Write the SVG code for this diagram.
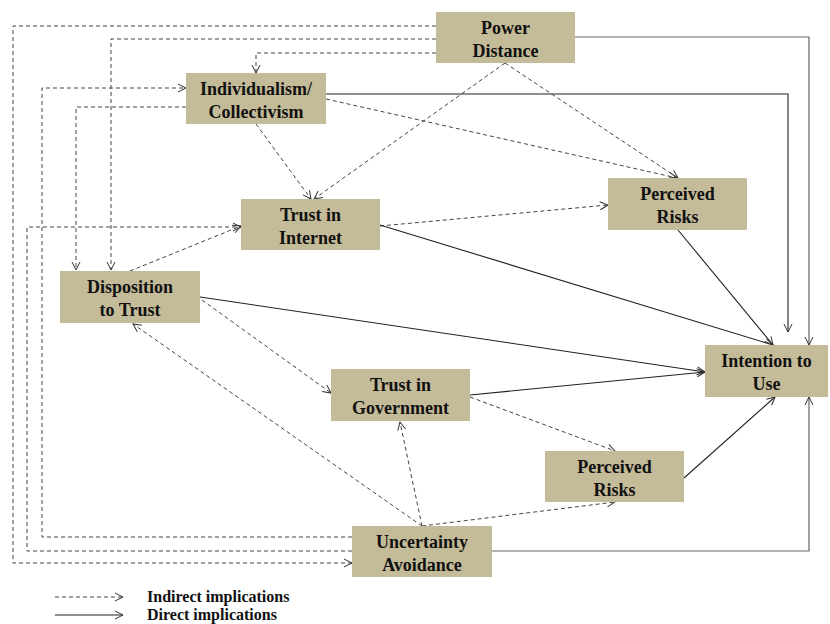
<svg xmlns="http://www.w3.org/2000/svg" width="830" height="624" viewBox="0 0 830 624">
<style>
.node rect{fill:#c4bb98;}
.node text,.legend text{font-family:"Liberation Serif","Times New Roman",serif;font-weight:bold;font-size:18px;fill:#111;text-anchor:middle;}
.legend text{font-size:16px;text-anchor:start;}
.d{fill:none;stroke:#444;stroke-width:1;stroke-dasharray:4,3;marker-end:url(#ah);}
.s{fill:none;stroke:#222;stroke-width:1.1;marker-end:url(#ah);}
.g{fill:none;stroke:#666;stroke-width:1.2;marker-end:url(#ah);}
</style>
<defs>
<marker id="ah" markerUnits="userSpaceOnUse" markerWidth="12" markerHeight="12" refX="9" refY="5" orient="auto">
<path d="M1,1 L9,5 L1,9" fill="none" stroke="#333" stroke-width="1"/>
</marker>
</defs>
<rect width="830" height="624" fill="#fff"/>
<g id="connectors">
<path class="d" d="M436,26 H13 V563 H352"/>
<path class="d" d="M436,39 H111 V270"/>
<path class="d" d="M436,53 H256 V73"/>
<path class="d" d="M352,537 H42 V88 H186"/>
<path class="d" d="M352,551 H27 V227 H241"/>
<path class="d" d="M186,107 H76 V270"/>
<path class="d" d="M256,124 L311,199"/>
<path class="d" d="M505,63 L314,199"/>
<path class="d" d="M505,63 L678,178"/>
<path class="d" d="M326,99 L677,178"/>
<path class="d" d="M380,226 L608,205"/>
<path class="d" d="M130,271 L241,226"/>
<path class="d" d="M202,300 L331,393"/>
<path class="d" d="M422,526 L133,324"/>
<path class="d" d="M422,526 L400,422"/>
<path class="d" d="M422,526 L615,502"/>
<path class="d" d="M470,397 L615,451"/>
<path class="s" d="M200,297 L705,372"/>
<path class="s" d="M470,395 L705,372"/>
<path class="s" d="M380,225 L773,345"/>
<path class="s" d="M678,230 L773,345"/>
<path class="s" d="M684,478 L775,397"/>
<path class="g" d="M492,551 H809 V397"/>
<path class="g" d="M575,37 H809 V345"/>
<path class="s" d="M326,94 H788 V332"/>
</g>
<g id="power-distance" class="node"><rect x="436" y="12" width="139" height="51"/><text x="505.5" y="34">Power</text><text x="505.5" y="57">Distance</text></g>
<g id="individualism" class="node"><rect x="186" y="73" width="140" height="51"/><text x="256" y="95">Individualism/</text><text x="256" y="118">Collectivism</text></g>
<g id="trust-internet" class="node"><rect x="241" y="199" width="139" height="51"/><text x="310.5" y="221">Trust in</text><text x="310.5" y="244">Internet</text></g>
<g id="perceived-risks-1" class="node"><rect x="608" y="178" width="139" height="52"/><text x="677.5" y="200">Perceived</text><text x="677.5" y="223">Risks</text></g>
<g id="disposition" class="node"><rect x="60" y="271" width="140" height="52"/><text x="130" y="293">Disposition</text><text x="130" y="316">to Trust</text></g>
<g id="intention" class="node"><rect x="705" y="345" width="123" height="52"/><text x="766.5" y="367">Intention to</text><text x="766.5" y="390">Use</text></g>
<g id="trust-government" class="node"><rect x="331" y="369" width="139" height="52"/><text x="400.5" y="391">Trust in</text><text x="400.5" y="414">Government</text></g>
<g id="perceived-risks-2" class="node"><rect x="545" y="451" width="139" height="51"/><text x="614.5" y="473">Perceived</text><text x="614.5" y="496">Risks</text></g>
<g id="uncertainty" class="node"><rect x="352" y="526" width="140" height="51"/><text x="422" y="548">Uncertainty</text><text x="422" y="571">Avoidance</text></g>
<g id="legend" class="legend">
<path class="d" d="M55,597 H123"/>
<path class="s" d="M55,615 H123"/>
<text x="147" y="602">Indirect implications</text>
<text x="147" y="620">Direct implications</text>
</g>
</svg>
